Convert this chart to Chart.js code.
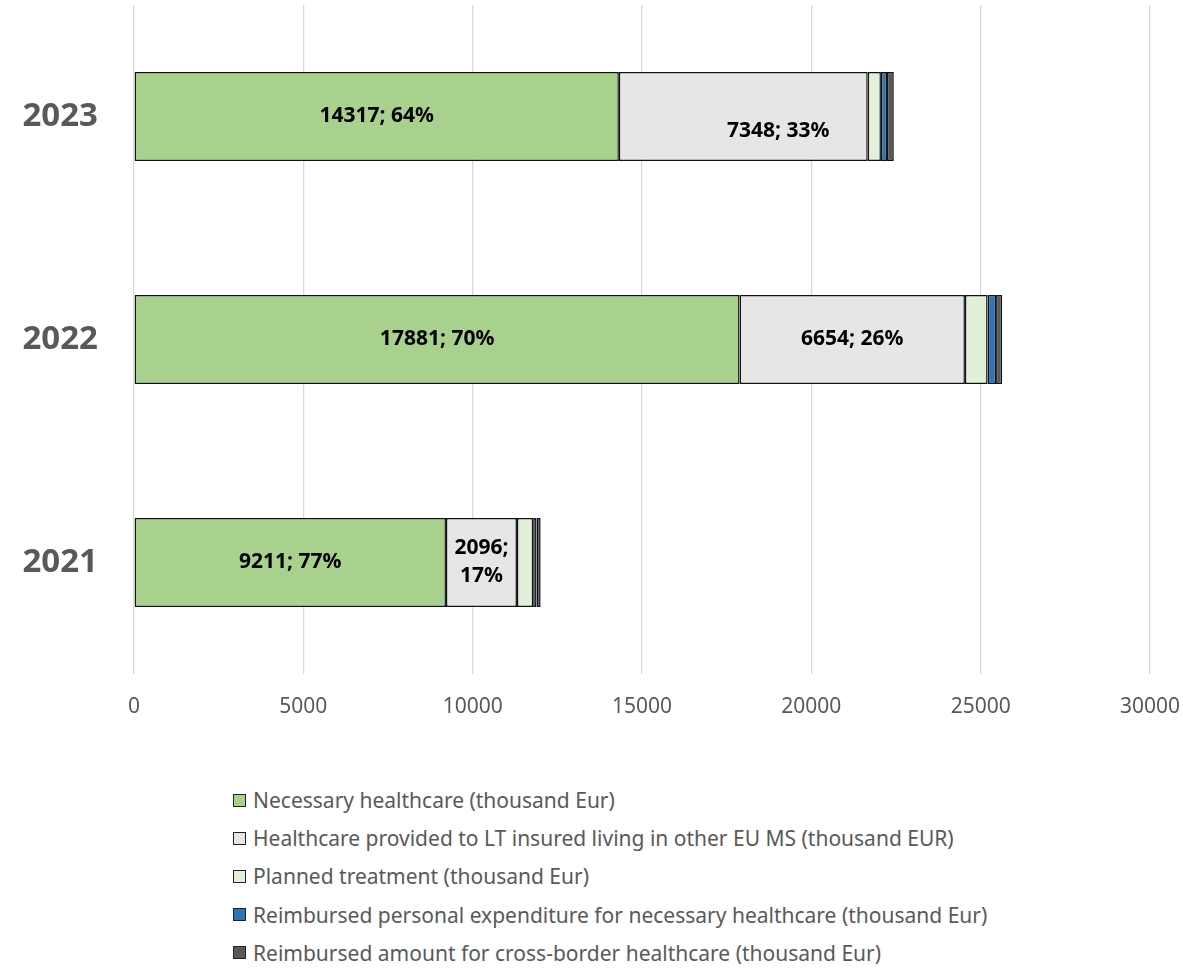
<!DOCTYPE html>
<html>
<head>
<meta charset="utf-8">
<script src="https://cdn.jsdelivr.net/npm/chart.js@4.4.1/dist/chart.umd.min.js"></script>
<style>
  html, body { margin: 0; padding: 0; background: #fff; }
  #wrap { position: relative; width: 1183px; height: 970px; }
  #chart { position: absolute; left: 0; top: 0; }
  #legend { position: absolute; left: 233px; top: 781px; margin: 0; padding: 0; list-style: none;
    font-family: "Noto Sans", "Open Sans", sans-serif; font-size: 21px; color: #595959; }
  #legend li { height: 38.2px; display: flex; align-items: center; white-space: nowrap; }
  #legend .box { width: 11px; height: 11px; border: 1.5px solid #222; margin-right: 7px; flex: none; }
</style>
</head>
<body>
<div id="wrap">
  <canvas id="chart" width="1183" height="770"></canvas>
  <ul id="legend"></ul>
</div>
<script>
const UI_FONT = "'Noto Sans', 'Open Sans', sans-serif";

const years = ["2023", "2022", "2021"];
const seriesNames = [
  "Necessary healthcare (thousand Eur)",
  "Healthcare provided to LT insured living in other EU MS (thousand EUR)",
  "Planned treatment (thousand Eur)",
  "Reimbursed personal expenditure for necessary healthcare (thousand Eur)",
  "Reimbursed amount for cross-border healthcare (thousand Eur)"
];
const necessary = [14317, 17881, 9211];
const otherEuMs = [7348, 6654, 2096];
const planned = [390, 670, 480];
const reimbursedPersonal = [180, 250, 100];
const crossBorder = [200, 180, 120];
const xTicks = [0, 5000, 10000, 15000, 20000, 25000, 30000];

const seriesColors = ["#A9D18E", "#E7E6E6", "#E2F0D9", "#2E75B6", "#595959"];
const seriesValues = [necessary, otherEuMs, planned, reimbursedPersonal, crossBorder];

// only the first two series carry value labels
const labelledSeries = [0, 1];
// small hand nudge for a label that sits off-centre ("dataset:index" -> [dx, dy])
const labelNudge = { "1:0": [35, 15] };

const datasets = seriesNames.map((name, i) => ({
  label: name,
  data: seriesValues[i],
  backgroundColor: seriesColors[i],
  borderColor: "#111",
  borderWidth: 1.5,
  borderSkipped: false,
  categoryPercentage: 1,
  barPercentage: 0.4
}));

function totalFor(idx) {
  return seriesValues.reduce((s, arr) => s + arr[idx], 0);
}

const barLabels = {
  id: "barLabels",
  afterDatasetsDraw(chart) {
    const ctx = chart.ctx;
    ctx.save();
    ctx.font = "bold 21px " + UI_FONT;
    ctx.fillStyle = "#000";
    ctx.textAlign = "center";
    ctx.textBaseline = "middle";
    labelledSeries.forEach((di) => {
      const meta = chart.getDatasetMeta(di);
      meta.data.forEach((bar, idx) => {
        const v = seriesValues[di][idx];
        const pct = Math.round((v / totalFor(idx)) * 100);
        const text = v + "; " + pct + "%";
        const nudge = labelNudge[di + ":" + idx] || [0, 0];
        const cx = (bar.x + bar.base) / 2 + nudge[0];
        const cy = bar.y + nudge[1];
        const w = Math.abs(bar.x - bar.base);
        if (ctx.measureText(text).width > w - 8) {
          ctx.fillText(v + ";", cx, cy - 14);
          ctx.fillText(pct + "%", cx, cy + 14);
        } else {
          ctx.fillText(text, cx, cy);
        }
      });
    });
    ctx.restore();
  }
};

const chart = new Chart(document.getElementById("chart").getContext("2d"), {
  type: "bar",
  data: { labels: years, datasets },
  options: {
    indexAxis: "y",
    responsive: false,
    animation: false,
    layout: { padding: { top: 5, right: 33, left: 0, bottom: 0 } },
    plugins: { legend: { display: false }, tooltip: { enabled: false } },
    scales: {
      x: {
        stacked: true,
        min: 0,
        max: 30000,
        afterBuildTicks: (scale) => { scale.ticks = xTicks.map((v) => ({ value: v })); },
        afterFit: (scale) => {
          scale.height = 96;
          // end labels may hang over the plot edges
          scale.paddingLeft = 0;
          scale.paddingRight = 0;
        },
        border: { display: false },
        grid: { color: "#D9D9D9", lineWidth: 1.3, drawTicks: false },
        ticks: {
          color: "#595959",
          padding: 20,
          font: { family: UI_FONT, size: 21 },
          callback: (v) => String(v)
        }
      },
      y: {
        stacked: true,
        afterFit: (scale) => {
          scale.width = 134;
          // the wide tick padding should not push the plot down
          scale.paddingTop = 0;
          scale.paddingBottom = 0;
        },
        border: { display: false },
        grid: { display: false },
        ticks: { color: "#595959", padding: 28, font: { family: UI_FONT, size: 33, weight: "bold" } }
      }
    }
  },
  plugins: [barLabels]
});

// legend as a plain list, one entry per line
const legendEl = document.getElementById("legend");
chart.data.datasets.forEach((ds) => {
  const li = document.createElement("li");
  const box = document.createElement("span");
  box.className = "box";
  box.style.background = ds.backgroundColor;
  li.appendChild(box);
  li.appendChild(document.createTextNode(ds.label));
  legendEl.appendChild(li);
});
</script>
</body>
</html>
